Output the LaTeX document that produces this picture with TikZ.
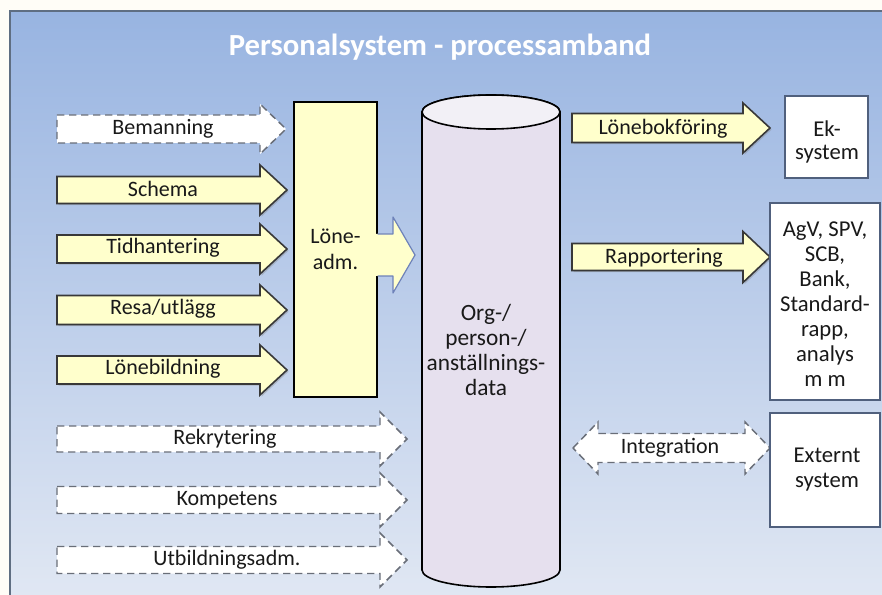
\documentclass[tikz,border=0pt]{standalone}
\usepackage{fontspec}
\setmainfont{Carlito}
\usetikzlibrary{shadows}
\definecolor{bgcream}{RGB}{255,253,247}
\definecolor{panelTop}{RGB}{152,180,225}
\definecolor{panelBot}{RGB}{224,231,243}
\definecolor{panelLine}{RGB}{95,110,130}
\definecolor{yel}{RGB}{255,255,204}
\definecolor{cylfill}{RGB}{230,224,238}
\definecolor{cyltop}{RGB}{242,240,246}
\definecolor{boxline}{RGB}{80,96,125}
\definecolor{txt}{RGB}{25,25,25}
\definecolor{dashline}{RGB}{105,110,120}
\definecolor{lonline}{RGB}{110,130,185}
\newcommand\blockarr[7]{% style, x0, xh, xt, yc, hs, hh
  \path[#1] ({#2},{-(#5)+#6}) -- ({#3},{-(#5)+#6}) -- ({#3},{-(#5)+#7}) -- ({#4},{-(#5)})
   -- ({#3},{-(#5)-#7}) -- ({#3},{-(#5)-#6}) -- ({#2},{-(#5)-#6}) -- cycle;}
\tikzset{
  solidarr/.style={fill=yel, draw=black!78, line width=1.2pt,
    drop shadow={shadow xshift=1.2pt, shadow yshift=-1.2pt, opacity=.35}},
  dasharr/.style={fill=white, draw=dashline, line width=1.1pt, dash pattern=on 5.5pt off 3.5pt},
  lbl/.style={text=txt, font=\fontsize{16.5}{19}\selectfont, inner sep=0pt},
  yelbox/.style={fill=yel, draw=black, line width=1.2pt, inner sep=0pt, align=center,
    text=txt, font=\fontsize{16.5}{19.5}\selectfont},
  whitebox/.style={fill=white, draw=boxline, line width=1.1pt, inner sep=0pt},
  boxtxt/.style={text=txt, inner sep=0pt, align=center},
}
\begin{document}
\begin{tikzpicture}[x=0.75pt,y=0.75pt]
\useasboundingbox (0,0) rectangle (882,-595);
\fill[bgcream] (0,0) rectangle (882,-595);
\fill[top color=panelTop, bottom color=panelBot] (10,-11) rectangle (882,-595);
\draw[panelLine, line width=1.1pt] (10,-595) -- (10,-11) -- (882,-11);

\node[text=white, font=\bfseries\fontsize{23}{26}\selectfont, inner sep=0pt] (title) at (440,-47) {Personalsystem - processamband};

% left input arrows
\blockarr{dasharr}{57}{260}{286}{129}{14}{25}
\blockarr{solidarr}{57}{260}{287}{190}{13.5}{25}
\blockarr{solidarr}{57}{260}{287}{249}{14}{25}
\blockarr{solidarr}{57}{260}{287}{310}{14.5}{25}
\blockarr{solidarr}{57}{260}{287}{370}{14}{25}
\node[lbl] (bem) at (163,-129) {Bemanning};
\node[lbl] (sch) at (163,-189) {Schema};
\node[lbl] (tid) at (163,-248) {Tidhantering};
\node[lbl] (res) at (163,-309) {Resa/utlägg};
\node[lbl] (lob) at (163,-369) {Lönebildning};

% dashed lower arrows
\blockarr{dasharr}{57}{380}{407}{439}{13}{27}
\blockarr{dasharr}{57}{380}{407}{500}{13.5}{27}
\blockarr{dasharr}{57}{380}{407}{560}{13.5}{27}
\node[lbl] (rek) at (225,-439) {Rekrytering};
\node[lbl] (kom) at (227,-500) {Kompetens};
\node[lbl] (utb) at (227,-560) {Utbildningsadm.};

% Löne-adm box
\node[yelbox, minimum width=62.25pt, minimum height=221.25pt] (lon) at (335.5,-249.5) {Löne-\\adm.};

% arrow Löne-adm -> database
\path[fill=yel] (376,-234) -- (393,-234) -- (393,-217) -- (415,-255) -- (393,-293) -- (393,-276) -- (376,-276) -- cycle;
\draw[lonline, line width=0.9pt, line join=round] (377.5,-234) -- (393,-234) -- (393,-217) -- (415,-255) -- (393,-293) -- (393,-276) -- (377.5,-276);

% cylinder
\path[fill=cylfill, draw=black, line width=1.2pt] (422,-112) -- (422,-570)
  arc[start angle=180, end angle=360, x radius=69, y radius=17] -- (560,-112)
  arc[start angle=0, end angle=180, x radius=69, y radius=17] -- cycle;
\path[fill=cyltop, draw=black, line width=1.2pt] (491,-112) ellipse[x radius=69, y radius=17];
\node[lbl, align=center, font=\fontsize{17.5}{18.8}\selectfont] (db) at (486,-350) {Org-/\\person-/\\anställnings-\\data};

% right arrows
\blockarr{solidarr}{572}{743}{770}{128}{14.5}{25}
\blockarr{solidarr}{572}{743}{770}{257}{13.5}{25.5}
\node[lbl] (lbf) at (663,-129) {Lönebokföring};
\node[lbl] (rap) at (664,-258) {Rapportering};

% integration double arrow
\path[dasharr] (573,-448) -- (598,-422) -- (598,-433.5) -- (745,-433.5) -- (745,-422) -- (770,-448)
  -- (745,-474) -- (745,-462.5) -- (598,-462.5) -- (598,-474) -- cycle;
\node[lbl] (int) at (670,-448) {Integration};

% right boxes
\node[whitebox, minimum width=62.25pt, minimum height=61.5pt] (ek) at (826.5,-137) {};
\node[boxtxt, font=\fontsize{17}{17.3}\selectfont] (ektxt) at (827,-141.5) {Ek-\\system};
\node[whitebox, minimum width=82.5pt, minimum height=147.75pt] (agv) at (825,-301.5) {};
\node[boxtxt, font=\fontsize{17}{18.8}\selectfont] (agvtxt) at (825,-304) {AgV, SPV,\\SCB,\\Bank,\\Standard-\\rapp,\\analys\\m m};
\node[whitebox, minimum width=82.5pt, minimum height=85.5pt] (ext) at (825,-470) {};
\node[boxtxt, font=\fontsize{17}{18.8}\selectfont] (exttxt) at (827,-469.5) {Externt\\system};
\end{tikzpicture}
\end{document}
